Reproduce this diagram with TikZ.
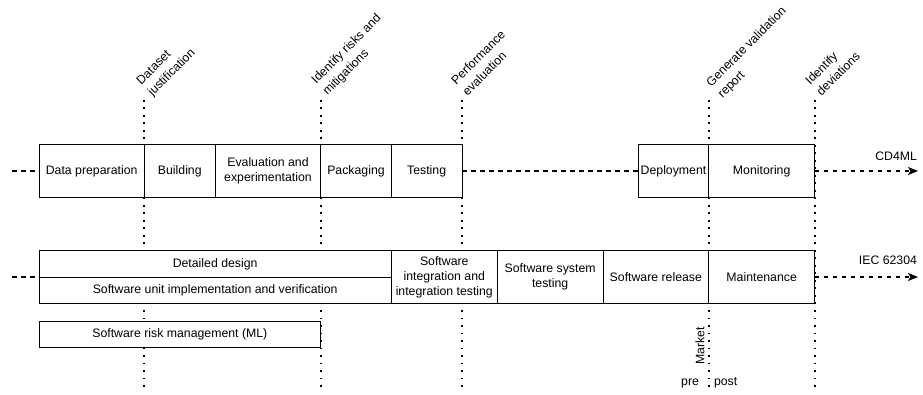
\documentclass[tikz,border=0pt]{standalone}
\usepackage{fontspec}
\setmainfont{Liberation Sans}
\usetikzlibrary{arrows.meta}
\begin{document}
\begin{tikzpicture}[x=1pt,y=-1pt,
  every node/.style={font=\fontsize{12.3}{15}\selectfont, inner sep=0pt, outer sep=0pt},
  stage/.style={draw=black, line width=1pt, fill=white, align=center},
  flow/.style={line width=1.5pt, dash pattern=on 4.5pt off 4.5pt},
  flowarrow/.style={flow, -{Stealth[length=10pt,width=8pt,inset=2.5pt]}},
  milestone/.style={line width=1.8pt, dash pattern=on 1.8pt off 5.7pt},
  gate/.style={rotate=45, anchor=south west, align=left,
    font=\fontsize{12.3}{16}\selectfont},
]
\useasboundingbox (0,0) rectangle (923,395);

% milestone markers (behind the stage boxes)
\foreach \n/\x in {1/144.3, 2/320.7, 3/462, 4/708.7, 5/814.7}{
  \coordinate (m\n t) at (\x,100);
  \coordinate (m\n b) at (\x,392);
  \draw[milestone] (m\n t) -- (m\n b);
}

% milestone labels
\node[gate] (g1) at (156,100) {Dataset\\\strut justification};
\node[gate] (g2) at (331,99)  {Identify risks and\\\strut mitigations};
\node[gate] (g3) at (471,100) {Performance\\\strut evaluation};
\node[gate] (g4) at (726,102) {Generate validation\\\strut report};
\node[gate] (g5) at (825,100) {Identify\\\strut deviations};

% CD4ML pipeline
\node[stage, minimum width=105.3, minimum height=53.4] (dp)  at (91.65,171) {Data preparation};
\node[stage, minimum width=71,    minimum height=53.4] (bu)  at (179.8,171) {Building};
\node[stage, minimum width=105.4, minimum height=53.4] (ev)  at (268,171)   {Evaluation and\\experimentation};
\node[stage, minimum width=70.6,  minimum height=53.4] (pk)  at (356,171)   {Packaging};
\node[stage, minimum width=70.7,  minimum height=53.4] (ts)  at (426.65,171) {Testing};
\node[stage, minimum width=70.4,  minimum height=53.4] (dep) at (673.5,171) {Deployment};
\node[stage, minimum width=106,   minimum height=53.4] (mon) at (761.7,171) {Monitoring};

\coordinate (cdin)  at (12,171);
\coordinate (cdout) at (918,171);
\draw[flow] (cdin) -- (dp.west);
\draw[flow] (ts.east) -- (dep.west);
\draw[flowarrow] (mon.east) -- (cdout);
\node[anchor=east] (cdl) at (917,156) {CD4ML};

% IEC 62304 life cycle
\node[stage, minimum width=352.3, minimum height=26.3] (dd)  at (215.15,263.85) {Detailed design};
\node[stage, minimum width=352.3, minimum height=26.3] (su)  at (215.15,290.15) {Software unit implementation and verification};
\node[stage, minimum width=106,   minimum height=52.6] (si)  at (444.3,277)   {Software\\integration and\\integration testing};
\node[stage, minimum width=105.7, minimum height=52.6] (sst) at (550.15,277)  {Software system\\testing};
\node[stage, minimum width=105.7, minimum height=52.6] (sr)  at (655.85,277)  {Software release};
\node[stage, minimum width=106,   minimum height=52.6] (mt)  at (761.7,277)   {Maintenance};

\coordinate (iecin)  at (12,277);
\coordinate (iecout) at (918,277);
\draw[flow] (iecin) -- (su.north west);
\draw[flowarrow] (mt.east) -- (iecout);
\node[anchor=east] (iecl) at (917,260) {IEC 62304};

% risk management track
\node[stage, minimum width=281.7, minimum height=26.3] (rm) at (179.85,334.15) {Software risk management (ML)};

% market boundary
\node[rotate=90] (mk) at (700,346) {Market};
\node[anchor=east] (pre)  at (699,383) {pre};
\node[anchor=west] (post) at (714,383) {post};
\end{tikzpicture}
\end{document}
